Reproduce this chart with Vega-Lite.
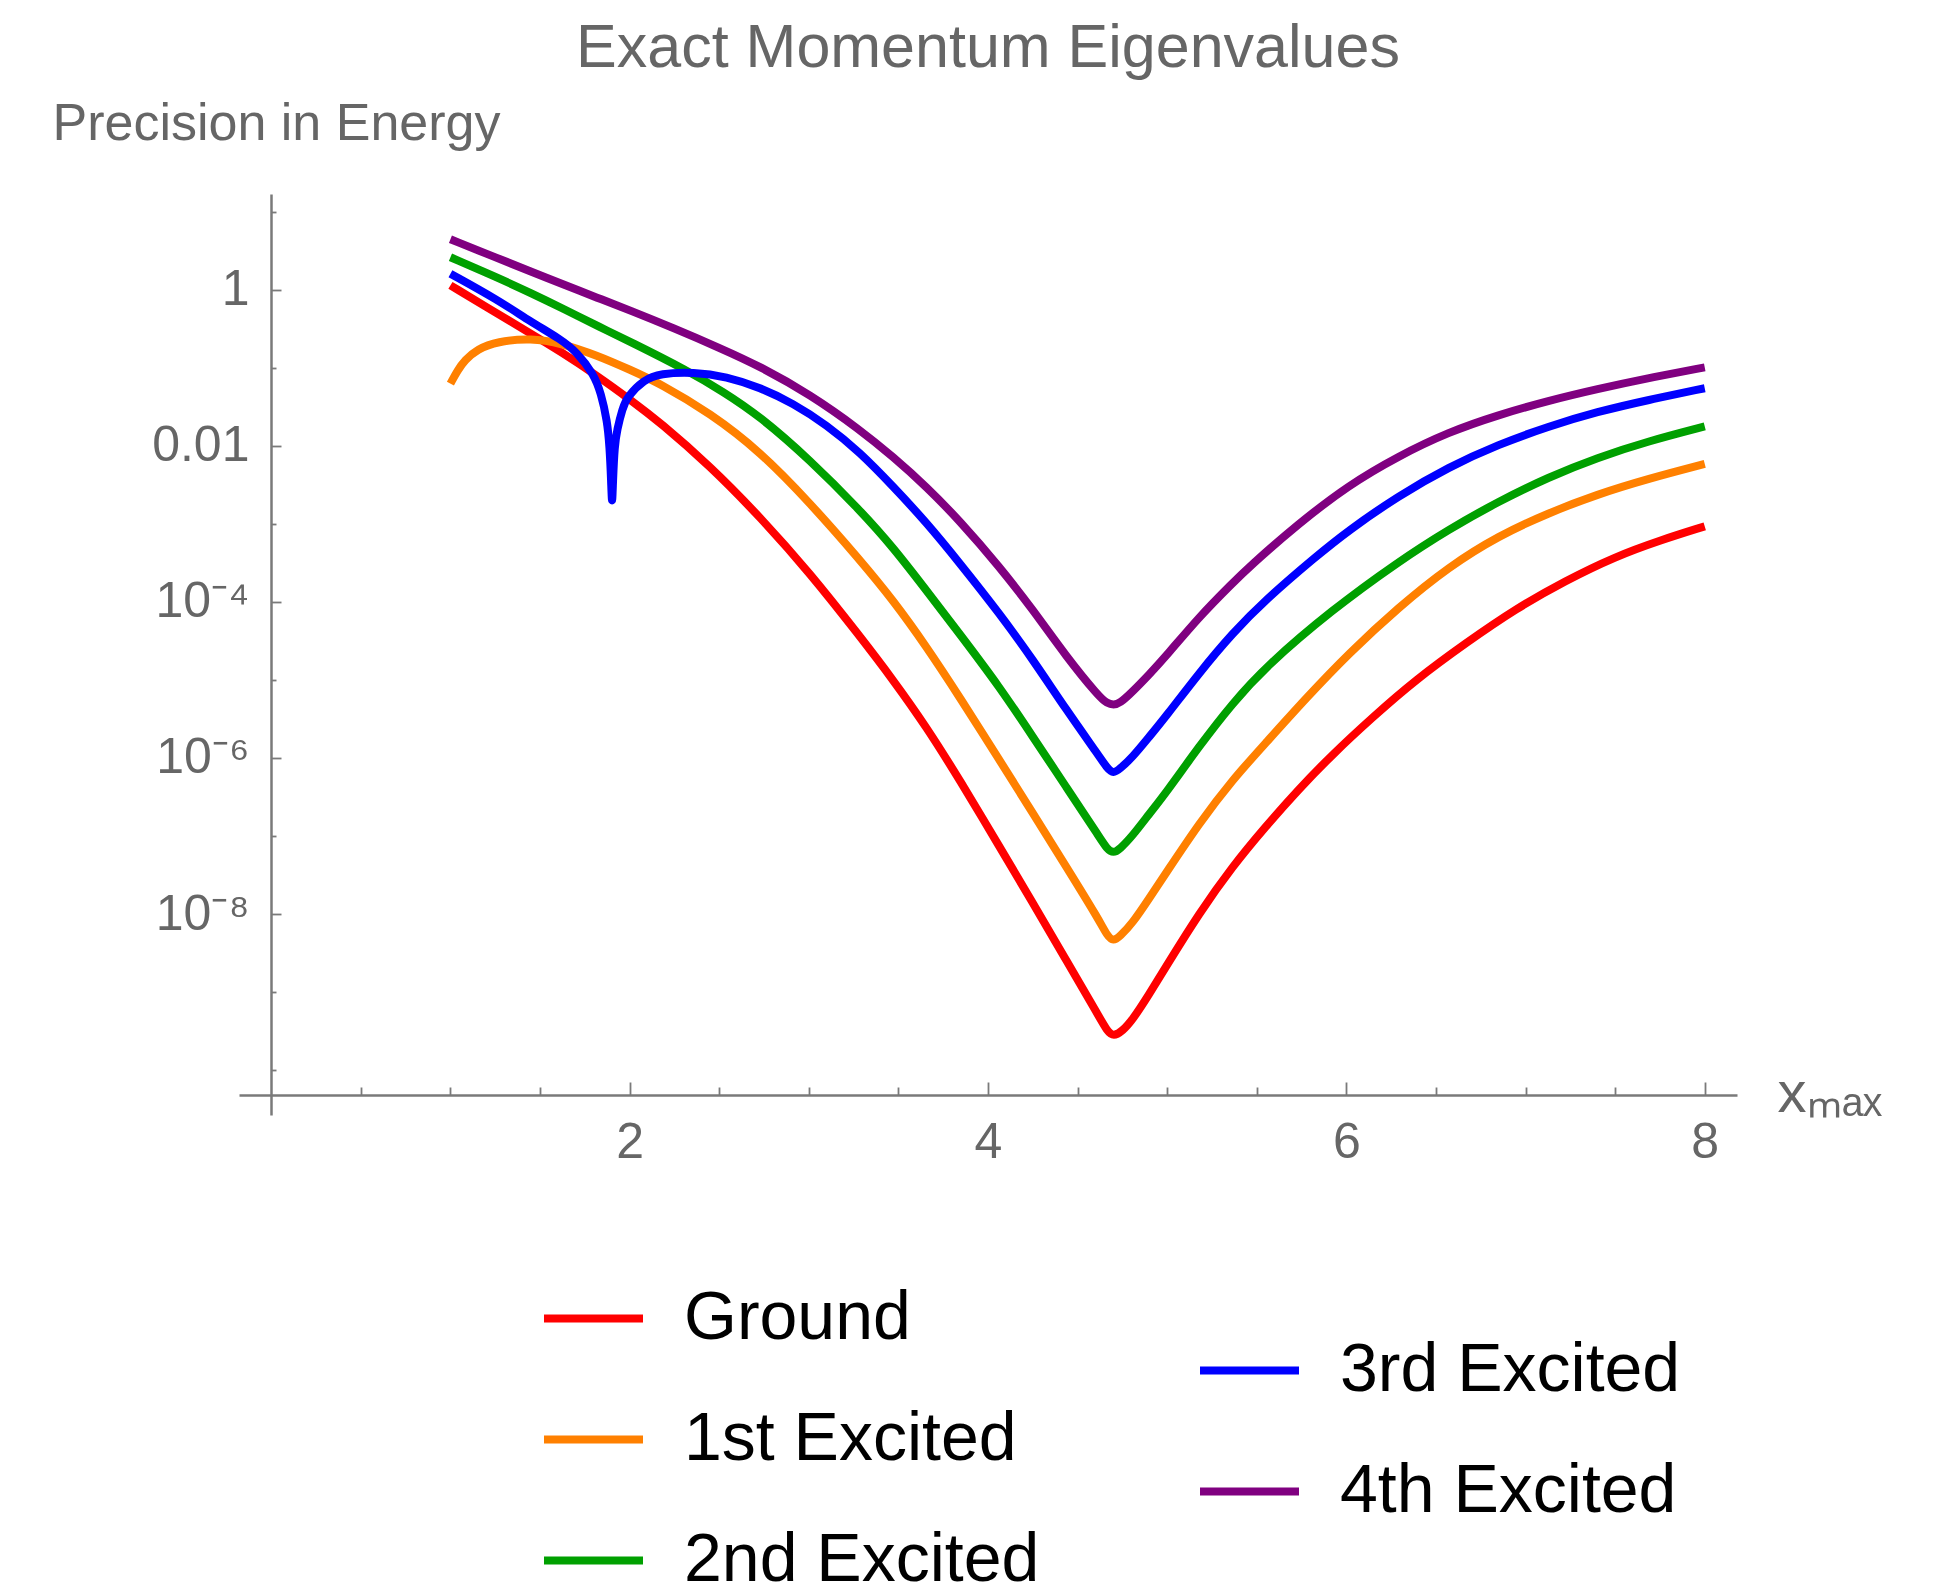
{
  "$schema": "https://vega.github.io/schema/vega-lite/v6.json",
  "width": 1498,
  "height": 921,
  "autosize": {"type": "none"},
  "padding": {"left": 239, "top": 194, "right": 205, "bottom": 470},
  "background": "white",
  "config": {"view": {"stroke": null}, "font": "Liberation Sans"},
  "title": {"text": "Exact Momentum Eigenvalues", "fontSize": 61, "fontWeight": "normal", "color": "#666666", "font": "Liberation Sans", "anchor": "middle", "frame": "group", "baseline": "alphabetic", "offset": 10, "dy": 41},
  "data": {"values": [
    {"s":"Ground","x":1.0,"v":1.148},{"s":"Ground","x":1.26,"v":0.501},{"s":"Ground","x":1.45,"v":0.275},{"s":"Ground","x":1.615,"v":0.162},{"s":"Ground","x":1.82,"v":0.0794},{"s":"Ground","x":2.0,"v":0.0398},{"s":"Ground","x":2.171,"v":0.0200},{"s":"Ground","x":2.45,"v":0.0055},{"s":"Ground","x":2.728,"v":0.00123},{"s":"Ground","x":3.007,"v":2.34e-4},{"s":"Ground","x":3.285,"v":3.63e-5},{"s":"Ground","x":3.471,"v":1.0e-5},{"s":"Ground","x":3.656,"v":2.51e-6},{"s":"Ground","x":3.842,"v":5.25e-7},{"s":"Ground","x":4.065,"v":7.24e-8},{"s":"Ground","x":4.251,"v":1.38e-8},{"s":"Ground","x":4.436,"v":2.57e-9},{"s":"Ground","x":4.621,"v":4.79e-10},{"s":"Ground","x":4.665,"v":3.16e-10},{"s":"Ground","x":4.70,"v":2.69e-10},{"s":"Ground","x":4.75,"v":3.16e-10},{"s":"Ground","x":4.806,"v":4.37e-10},{"s":"Ground","x":4.899,"v":9.33e-10},{"s":"Ground","x":4.992,"v":2.09e-9},{"s":"Ground","x":5.178,"v":1.02e-8},{"s":"Ground","x":5.364,"v":4.07e-8},{"s":"Ground","x":5.549,"v":1.32e-7},{"s":"Ground","x":5.73,"v":3.89e-7},{"s":"Ground","x":5.92,"v":1.10e-6},{"s":"Ground","x":6.15,"v":3.39e-6},{"s":"Ground","x":6.385,"v":1.0e-5},{"s":"Ground","x":6.67,"v":3.02e-5},{"s":"Ground","x":6.95,"v":8.32e-5},{"s":"Ground","x":7.22,"v":1.86e-4},{"s":"Ground","x":7.498,"v":3.80e-4},{"s":"Ground","x":7.75,"v":6.17e-4},{"s":"Ground","x":8.0,"v":9.33e-4},

    {"s":"1st Excited","x":1.0,"v":0.0631},{"s":"1st Excited","x":1.04,"v":0.0933},{"s":"1st Excited","x":1.08,"v":0.126},{"s":"1st Excited","x":1.15,"v":0.174},{"s":"1st Excited","x":1.26,"v":0.219},{"s":"1st Excited","x":1.45,"v":0.240},{"s":"1st Excited","x":1.615,"v":0.209},{"s":"1st Excited","x":1.82,"v":0.145},{"s":"1st Excited","x":2.0,"v":0.0955},{"s":"1st Excited","x":2.171,"v":0.0631},{"s":"1st Excited","x":2.45,"v":0.0263},{"s":"1st Excited","x":2.728,"v":0.00851},{"s":"1st Excited","x":3.007,"v":0.00186},{"s":"1st Excited","x":3.285,"v":3.47e-4},{"s":"1st Excited","x":3.471,"v":1.05e-4},{"s":"1st Excited","x":3.656,"v":2.69e-5},{"s":"1st Excited","x":3.842,"v":6.03e-6},{"s":"1st Excited","x":4.065,"v":9.33e-7},{"s":"1st Excited","x":4.251,"v":1.95e-7},{"s":"1st Excited","x":4.436,"v":4.07e-8},{"s":"1st Excited","x":4.621,"v":8.32e-9},{"s":"1st Excited","x":4.665,"v":5.25e-9},{"s":"1st Excited","x":4.70,"v":4.47e-9},{"s":"1st Excited","x":4.735,"v":5.13e-9},{"s":"1st Excited","x":4.806,"v":7.59e-9},{"s":"1st Excited","x":4.899,"v":1.58e-8},{"s":"1st Excited","x":4.992,"v":3.31e-8},{"s":"1st Excited","x":5.178,"v":1.45e-7},{"s":"1st Excited","x":5.364,"v":5.25e-7},{"s":"1st Excited","x":5.549,"v":1.55e-6},{"s":"1st Excited","x":5.78,"v":6.03e-6},{"s":"1st Excited","x":6.013,"v":2.19e-5},{"s":"1st Excited","x":6.29,"v":8.51e-5},{"s":"1st Excited","x":6.57,"v":2.82e-4},{"s":"1st Excited","x":6.85,"v":7.08e-4},{"s":"1st Excited","x":7.127,"v":0.00138},{"s":"1st Excited","x":7.4,"v":0.00240},{"s":"1st Excited","x":7.684,"v":0.00380},{"s":"1st Excited","x":8.0,"v":0.00589},

    {"s":"2nd Excited","x":1.0,"v":2.63},{"s":"2nd Excited","x":1.26,"v":1.45},{"s":"2nd Excited","x":1.45,"v":0.912},{"s":"2nd Excited","x":1.63,"v":0.575},{"s":"2nd Excited","x":1.837,"v":0.331},{"s":"2nd Excited","x":2.0,"v":0.219},{"s":"2nd Excited","x":2.32,"v":0.0933},{"s":"2nd Excited","x":2.52,"v":0.0501},{"s":"2nd Excited","x":2.728,"v":0.0240},{"s":"2nd Excited","x":3.007,"v":0.00661},{"s":"2nd Excited","x":3.285,"v":0.00151},{"s":"2nd Excited","x":3.471,"v":5.01e-4},{"s":"2nd Excited","x":3.656,"v":1.41e-4},{"s":"2nd Excited","x":3.842,"v":3.89e-5},{"s":"2nd Excited","x":4.065,"v":8.13e-6},{"s":"2nd Excited","x":4.251,"v":1.86e-6},{"s":"2nd Excited","x":4.436,"v":4.27e-7},{"s":"2nd Excited","x":4.621,"v":9.77e-8},{"s":"2nd Excited","x":4.665,"v":6.76e-8},{"s":"2nd Excited","x":4.70,"v":6.03e-8},{"s":"2nd Excited","x":4.735,"v":6.76e-8},{"s":"2nd Excited","x":4.806,"v":1.0e-7},{"s":"2nd Excited","x":4.899,"v":1.91e-7},{"s":"2nd Excited","x":4.992,"v":3.55e-7},{"s":"2nd Excited","x":5.178,"v":1.41e-6},{"s":"2nd Excited","x":5.364,"v":5.01e-6},{"s":"2nd Excited","x":5.549,"v":1.48e-5},{"s":"2nd Excited","x":5.92,"v":7.94e-5},{"s":"2nd Excited","x":6.292,"v":3.31e-4},{"s":"2nd Excited","x":6.57,"v":8.51e-4},{"s":"2nd Excited","x":6.85,"v":0.00195},{"s":"2nd Excited","x":7.127,"v":0.00398},{"s":"2nd Excited","x":7.4,"v":0.00708},{"s":"2nd Excited","x":7.684,"v":0.0115},{"s":"2nd Excited","x":8.0,"v":0.0178},

    {"s":"3rd Excited","x":1.0,"v":1.62},{"s":"3rd Excited","x":1.26,"v":0.759},{"s":"3rd Excited","x":1.45,"v":0.389},{"s":"3rd Excited","x":1.615,"v":0.234},{"s":"3rd Excited","x":1.708,"v":0.158},{"s":"3rd Excited","x":1.80,"v":0.0832},{"s":"3rd Excited","x":1.84,"v":0.0479},{"s":"3rd Excited","x":1.875,"v":0.0209},{"s":"3rd Excited","x":1.888,"v":0.0100},{"s":"3rd Excited","x":1.897,"v":0.00355},{"s":"3rd Excited","x":1.902,"v":0.00151},{"s":"3rd Excited","x":1.907,"v":0.00355},{"s":"3rd Excited","x":1.916,"v":0.0100},{"s":"3rd Excited","x":1.93,"v":0.0162},{"s":"3rd Excited","x":1.96,"v":0.0302},{"s":"3rd Excited","x":1.986,"v":0.0427},{"s":"3rd Excited","x":2.08,"v":0.0708},{"s":"3rd Excited","x":2.17,"v":0.0851},{"s":"3rd Excited","x":2.357,"v":0.0891},{"s":"3rd Excited","x":2.54,"v":0.0776},{"s":"3rd Excited","x":2.728,"v":0.0562},{"s":"3rd Excited","x":2.91,"v":0.0355},{"s":"3rd Excited","x":3.10,"v":0.0186},{"s":"3rd Excited","x":3.285,"v":0.00832},{"s":"3rd Excited","x":3.471,"v":0.00302},{"s":"3rd Excited","x":3.656,"v":0.00105},{"s":"3rd Excited","x":3.842,"v":3.16e-4},{"s":"3rd Excited","x":4.065,"v":7.08e-5},{"s":"3rd Excited","x":4.251,"v":1.82e-5},{"s":"3rd Excited","x":4.436,"v":4.17e-6},{"s":"3rd Excited","x":4.621,"v":1.05e-6},{"s":"3rd Excited","x":4.665,"v":7.41e-7},{"s":"3rd Excited","x":4.70,"v":6.31e-7},{"s":"3rd Excited","x":4.735,"v":7.24e-7},{"s":"3rd Excited","x":4.806,"v":1.02e-6},{"s":"3rd Excited","x":4.899,"v":1.86e-6},{"s":"3rd Excited","x":4.992,"v":3.39e-6},{"s":"3rd Excited","x":5.178,"v":1.23e-5},{"s":"3rd Excited","x":5.364,"v":3.98e-5},{"s":"3rd Excited","x":5.549,"v":1.07e-4},{"s":"3rd Excited","x":5.828,"v":3.80e-4},{"s":"3rd Excited","x":6.013,"v":8.32e-4},{"s":"3rd Excited","x":6.29,"v":0.00229},{"s":"3rd Excited","x":6.57,"v":0.00537},{"s":"3rd Excited","x":6.85,"v":0.0105},{"s":"3rd Excited","x":7.127,"v":0.0178},{"s":"3rd Excited","x":7.4,"v":0.0275},{"s":"3rd Excited","x":7.684,"v":0.0389},{"s":"3rd Excited","x":8.0,"v":0.0550},

    {"s":"4th Excited","x":1.0,"v":4.47},{"s":"4th Excited","x":1.26,"v":2.57},{"s":"4th Excited","x":1.45,"v":1.72},{"s":"4th Excited","x":1.63,"v":1.175},{"s":"4th Excited","x":1.82,"v":0.794},{"s":"4th Excited","x":2.0,"v":0.550},{"s":"4th Excited","x":2.246,"v":0.324},{"s":"4th Excited","x":2.50,"v":0.182},{"s":"4th Excited","x":2.728,"v":0.105},{"s":"4th Excited","x":3.007,"v":0.0457},{"s":"4th Excited","x":3.285,"v":0.0162},{"s":"4th Excited","x":3.471,"v":0.00724},{"s":"4th Excited","x":3.656,"v":0.00302},{"s":"4th Excited","x":3.842,"v":0.00110},{"s":"4th Excited","x":4.065,"v":2.82e-4},{"s":"4th Excited","x":4.251,"v":7.94e-5},{"s":"4th Excited","x":4.436,"v":2.0e-5},{"s":"4th Excited","x":4.621,"v":6.03e-6},{"s":"4th Excited","x":4.665,"v":5.01e-6},{"s":"4th Excited","x":4.70,"v":4.79e-6},{"s":"4th Excited","x":4.735,"v":5.01e-6},{"s":"4th Excited","x":4.806,"v":7.08e-6},{"s":"4th Excited","x":4.899,"v":1.175e-5},{"s":"4th Excited","x":4.992,"v":2.0e-5},{"s":"4th Excited","x":5.178,"v":6.46e-5},{"s":"4th Excited","x":5.364,"v":1.74e-4},{"s":"4th Excited","x":5.457,"v":2.82e-4},{"s":"4th Excited","x":5.73,"v":0.0010},{"s":"4th Excited","x":6.013,"v":0.00316},{"s":"4th Excited","x":6.29,"v":0.00741},{"s":"4th Excited","x":6.57,"v":0.0151},{"s":"4th Excited","x":6.85,"v":0.0251},{"s":"4th Excited","x":7.127,"v":0.0380},{"s":"4th Excited","x":7.4,"v":0.0537},{"s":"4th Excited","x":7.684,"v":0.0741},{"s":"4th Excited","x":8.0,"v":0.102}
  ]},
  "layer": [
    {
      "transform": [{"filter": {"field": "s", "oneOf": ["Ground", "1st Excited", "2nd Excited"]}}],
      "mark": {"type": "line", "strokeWidth": 8, "interpolate": "basis"},
      "encoding": {
        "x": {"field": "x", "type": "quantitative",
          "scale": {"domain": [-0.18, 8.18], "nice": false, "zero": false},
          "axis": {
            "values": [0.5, 1, 1.5, 2, 2.5, 3, 3.5, 4, 4.5, 5, 5.5, 6, 6.5, 7, 7.5, 8],
            "labelExpr": "datum.value % 2 == 0 ? '' + datum.value : ''",
            "offset": -20, "grid": false,
            "domainColor": "#7a7a7a", "domainWidth": 2.5,
            "tickColor": "#7a7a7a", "tickWidth": 1.8,
            "tickSize": {"condition": {"test": "datum.value % 2 == 0", "value": -13}, "value": -8},
            "labelFont": "Liberation Sans", "labelFontSize": 50, "labelColor": "#666666", "labelPadding": 35,
            "labelOverlap": false, "labelFlush": false,
            "title": "xₘₐₓ", "titleX": 1538, "titleY": 16, "titleAlign": "left", "titleAnchor": null,
            "titleBaseline": "alphabetic", "titleFont": "Liberation Sans", "titleFontSize": 58,
            "titleFontWeight": "normal", "titleColor": "#666666"
          }
        },
        "y": {"field": "v", "type": "quantitative",
          "scale": {"type": "log", "domain": [2.65e-11, 17.0], "nice": false},
          "axis": {
            "values": [10, 1, 0.1, 0.01, 0.001, 1e-4, 1e-5, 1e-6, 1e-7, 1e-8, 1e-9, 1e-10],
            "labelExpr": "['1','','0.01','','10⁻⁴','','10⁻⁶','','10⁻⁸','',''][-round(log(datum.value)/LN10)] || ''",
            "offset": -32, "grid": false,
            "domainColor": "#7a7a7a", "domainWidth": 2.5,
            "tickColor": "#7a7a7a", "tickWidth": 1.8,
            "tickSize": {"condition": {"test": "indexof([0,-2,-4,-6,-8], round(log(datum.value)/LN10)) >= 0", "value": -10}, "value": -5},
            "labelFont": "Liberation Sans", "labelFontSize": 50, "labelColor": "#666666", "labelPadding": 32,
            "labelOverlap": false, "labelFlush": false,
            "title": "Precision in Energy", "titleAngle": 0, "titleX": -219, "titleY": -55,
            "titleAlign": "left", "titleAnchor": null, "titleBaseline": "alphabetic",
            "titleFont": "Liberation Sans", "titleFontSize": 52, "titleFontWeight": "normal", "titleColor": "#666666"
          }
        },
        "color": {"field": "s", "type": "nominal",
          "scale": {"domain": ["Ground", "1st Excited", "2nd Excited"], "range": ["#ff0000", "#ff8000", "#00a000"]},
          "legend": {"orient": "none", "legendX": 301, "legendY": 1071, "title": null, "direction": "vertical",
            "symbolType": "stroke", "symbolSize": 9801, "symbolStrokeWidth": 8,
            "labelFont": "Liberation Sans", "labelFontSize": 68, "labelColor": "#000000", "labelOffset": 37,
            "labelLimit": 0, "rowPadding": 33, "padding": 0}
        }
      }
    },
    {
      "transform": [{"filter": {"field": "s", "oneOf": ["3rd Excited", "4th Excited"]}}],
      "mark": {"type": "line", "strokeWidth": 8, "interpolate": "basis"},
      "encoding": {
        "x": {"field": "x", "type": "quantitative"},
        "y": {"field": "v", "type": "quantitative"},
        "stroke": {"field": "s", "type": "nominal",
          "scale": {"domain": ["3rd Excited", "4th Excited"], "range": ["#0000ff", "#800080"]},
          "legend": {"orient": "none", "legendX": 957, "legendY": 1123, "title": null, "direction": "vertical",
            "symbolType": "stroke", "symbolSize": 9801, "symbolStrokeWidth": 8,
            "labelFont": "Liberation Sans", "labelFontSize": 68, "labelColor": "#000000", "labelOffset": 37,
            "labelLimit": 0, "rowPadding": 33, "padding": 0}
        }
      }
    }
  ]
}
